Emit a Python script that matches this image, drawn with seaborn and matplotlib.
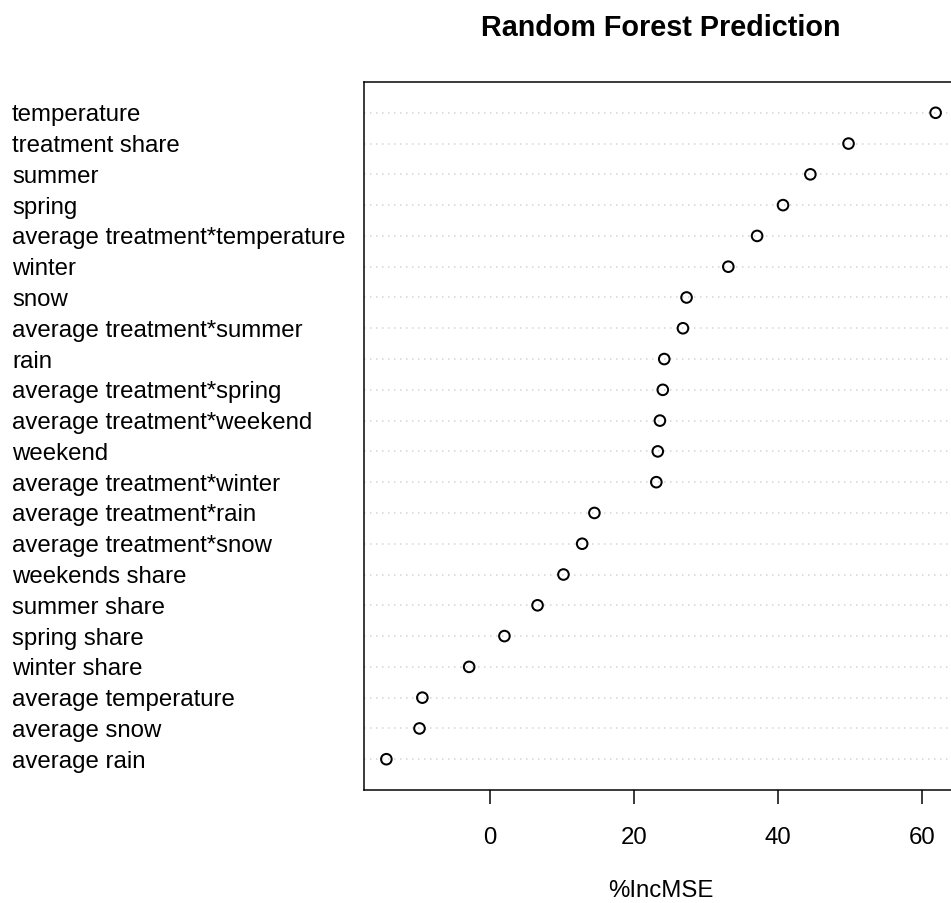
import numpy as np
import pandas as pd
import matplotlib
matplotlib.use("Agg")
import matplotlib.pyplot as plt
import seaborn as sns

# variable importance values (%IncMSE), top to bottom as in the chart
variables = [
    "temperature", "treatment share", "summer", "spring",
    "average treatment*temperature", "winter", "snow",
    "average treatment*summer", "rain", "average treatment*spring",
    "average treatment*weekend", "weekend", "average treatment*winter",
    "average treatment*rain", "average treatment*snow", "weekends share",
    "summer share", "spring share", "winter share", "average temperature",
    "average snow", "average rain",
]
inc_mse = [
    61.9, 49.8, 44.5, 40.7, 37.1, 33.1, 27.3, 26.8, 24.2, 24.0, 23.6,
    23.3, 23.1, 14.5, 12.8, 10.2, 6.6, 2.0, -2.9, -9.4, -9.8, -14.4,
]
x_ticks = [0, 20, 40, 60]

df = pd.DataFrame({"variable": variables, "IncMSE": inc_mse})

sns.set_style("white", rc={"text.color": "black", "axes.labelcolor": "black",
                           "xtick.color": "black", "ytick.color": "black",
                           "axes.edgecolor": "black"})
plt.rcParams["font.family"] = ["Liberation Sans", "DejaVu Sans"]

W, H, DPI = 951, 903, 144
fig = plt.figure(figsize=(W / DPI, H / DPI), dpi=DPI)
# axes box: left 364, top 82, bottom 790, right edge falls just outside the image
ax = fig.add_axes([364.4 / W, (H - 790) / H, (957.6 - 364.4) / W, (790 - 82) / H])

# dotted guide lines for every row (drawn first, like R's dotchart)
for i in range(len(variables)):
    ax.axhline(i, color="lightgray", linestyle=(0, (1, 3)), linewidth=0.75, zorder=1)

sns.stripplot(data=df, x="IncMSE", y="variable", order=variables,
              jitter=False, marker="o", size=5.3, linewidth=1.0,
              facecolor="none", edgecolor="black", color="black",
              ax=ax, zorder=3)

# R-style 4% padding around the data range
lo, hi = min(inc_mse), max(inc_mse)
rng = hi - lo
ax.set_xlim(lo - 0.04 * rng, hi + 0.04 * rng)
ax.set_ylim(len(variables), -1)

ax.set_xticks(x_ticks)
ax.set_xticklabels([str(t) for t in x_ticks], fontsize=12, color="black")
ax.tick_params(axis="x", direction="out", length=7, width=0.75, pad=11.5,
               color="black", bottom=True)

ax.set_yticks(range(len(variables)))
ax.set_yticklabels(variables, fontsize=12, ha="left", color="black")
ax.tick_params(axis="y", length=0, pad=(364.4 - 12) * 72 / DPI)

for s in ax.spines.values():
    s.set_visible(True)
    s.set_color("black")
    s.set_linewidth(0.75)

ax.set_xlabel("%IncMSE", fontsize=12, va="baseline", color="black")
ax.xaxis.set_label_coords(0.5, (790 - 897) / (790 - 82))
ax.set_ylabel("")
ax.set_title("Random Forest Prediction", fontsize=14.4, fontweight="bold",
             color="black", pad=0, y=1 + (82 - 28) / (790 - 82), va="center")

fig.savefig("out.png", dpi=DPI)
